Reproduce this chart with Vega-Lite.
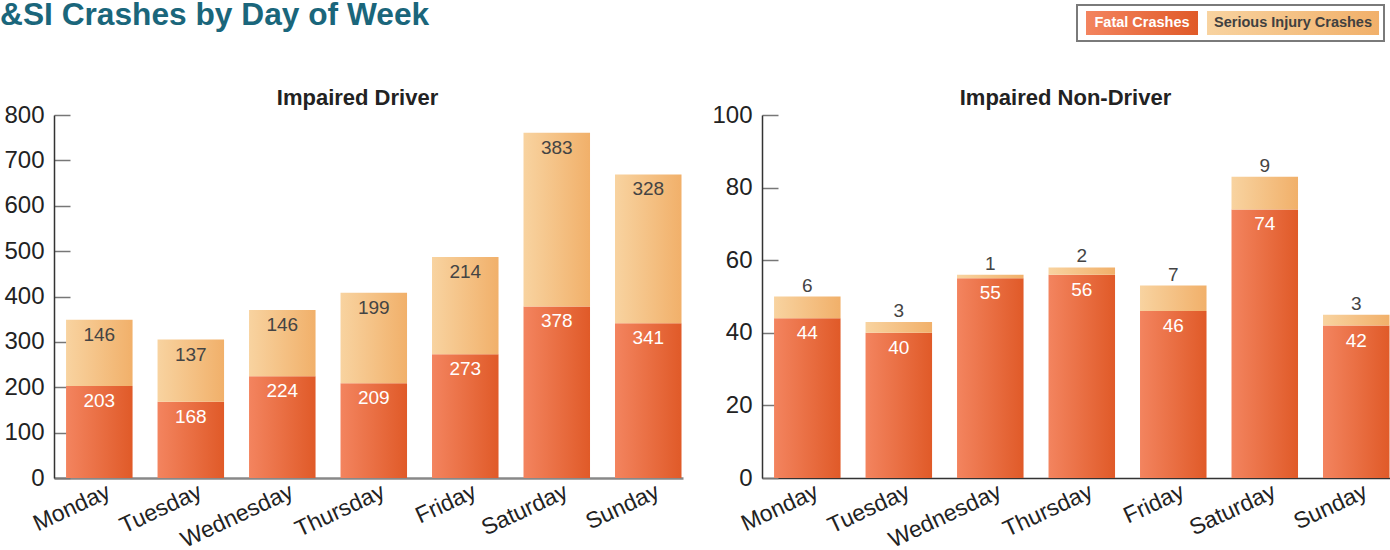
{
  "$schema": "https://vega.github.io/schema/vega-lite/v6.json",
  "padding": {"left": 0, "top": 0, "right": 0, "bottom": 0},
  "config": {"font": "Liberation Sans", "view": {"stroke": null}},
  "datasets": {
    "crashes": [
      {"chart": "Impaired Driver", "day": "Monday", "type": "Fatal Crashes", "value": 203},
      {"chart": "Impaired Driver", "day": "Monday", "type": "Serious Injury Crashes", "value": 146},
      {"chart": "Impaired Driver", "day": "Tuesday", "type": "Fatal Crashes", "value": 168},
      {"chart": "Impaired Driver", "day": "Tuesday", "type": "Serious Injury Crashes", "value": 137},
      {"chart": "Impaired Driver", "day": "Wednesday", "type": "Fatal Crashes", "value": 224},
      {"chart": "Impaired Driver", "day": "Wednesday", "type": "Serious Injury Crashes", "value": 146},
      {"chart": "Impaired Driver", "day": "Thursday", "type": "Fatal Crashes", "value": 209},
      {"chart": "Impaired Driver", "day": "Thursday", "type": "Serious Injury Crashes", "value": 199},
      {"chart": "Impaired Driver", "day": "Friday", "type": "Fatal Crashes", "value": 273},
      {"chart": "Impaired Driver", "day": "Friday", "type": "Serious Injury Crashes", "value": 214},
      {"chart": "Impaired Driver", "day": "Saturday", "type": "Fatal Crashes", "value": 378},
      {"chart": "Impaired Driver", "day": "Saturday", "type": "Serious Injury Crashes", "value": 383},
      {"chart": "Impaired Driver", "day": "Sunday", "type": "Fatal Crashes", "value": 341},
      {"chart": "Impaired Driver", "day": "Sunday", "type": "Serious Injury Crashes", "value": 328},
      {"chart": "Impaired Non-Driver", "day": "Monday", "type": "Fatal Crashes", "value": 44},
      {"chart": "Impaired Non-Driver", "day": "Monday", "type": "Serious Injury Crashes", "value": 6},
      {"chart": "Impaired Non-Driver", "day": "Tuesday", "type": "Fatal Crashes", "value": 40},
      {"chart": "Impaired Non-Driver", "day": "Tuesday", "type": "Serious Injury Crashes", "value": 3},
      {"chart": "Impaired Non-Driver", "day": "Wednesday", "type": "Fatal Crashes", "value": 55},
      {"chart": "Impaired Non-Driver", "day": "Wednesday", "type": "Serious Injury Crashes", "value": 1},
      {"chart": "Impaired Non-Driver", "day": "Thursday", "type": "Fatal Crashes", "value": 56},
      {"chart": "Impaired Non-Driver", "day": "Thursday", "type": "Serious Injury Crashes", "value": 2},
      {"chart": "Impaired Non-Driver", "day": "Friday", "type": "Fatal Crashes", "value": 46},
      {"chart": "Impaired Non-Driver", "day": "Friday", "type": "Serious Injury Crashes", "value": 7},
      {"chart": "Impaired Non-Driver", "day": "Saturday", "type": "Fatal Crashes", "value": 74},
      {"chart": "Impaired Non-Driver", "day": "Saturday", "type": "Serious Injury Crashes", "value": 9},
      {"chart": "Impaired Non-Driver", "day": "Sunday", "type": "Fatal Crashes", "value": 42},
      {"chart": "Impaired Non-Driver", "day": "Sunday", "type": "Serious Injury Crashes", "value": 3}
    ],
    "legend": [
      {"type": "Fatal Crashes"},
      {"type": "Serious Injury Crashes"}
    ]
  },
  "spacing": 45,
  "vconcat": [
    {
      "spacing": 20,
      "hconcat": [
        {
          "width": 1002,
          "height": 36,
          "data": {"values": []},
          "mark": {"type": "rule"},
          "encoding": {},
          "title": {"text": "&SI Crashes by Day of Week", "anchor": "start", "offset": -27, "dx": -54, "fontSize": 31.7, "fontWeight": "bold", "color": "#1a667b"}
        },
        {
          "width": 307,
          "height": 36,
          "data": {"name": "legend"},
          "view": {"stroke": "#7a7a7a", "strokeWidth": 2},
          "encoding": {
            "x": {"field": "type", "type": "nominal", "axis": null, "scale": {"domain": ["Fatal Crashes", "Serious Injury Crashes"], "paddingInner": 0.139, "paddingOuter": 0.086, "align": 0}},
            "y": {"datum": "legend", "type": "nominal", "axis": null, "scale": {"paddingInner": 0, "paddingOuter": 0.25}}
          },
          "layer": [
            {"transform": [{"filter": "datum.type === 'Fatal Crashes'"}], "mark": {"type": "bar", "width": 112, "color": {"gradient": "linear", "x1": 0, "y1": 0, "x2": 1, "y2": 0, "stops": [{"offset": 0, "color": "#f3845f"}, {"offset": 1, "color": "#e05a28"}]}}},
            {"transform": [{"filter": "datum.type !== 'Fatal Crashes'"}], "mark": {"type": "bar", "width": 172, "color": {"gradient": "linear", "x1": 0, "y1": 0, "x2": 1, "y2": 0, "stops": [{"offset": 0, "color": "#f8d3a0"}, {"offset": 1, "color": "#f1b06a"}]}}},
            {"mark": {"type": "text", "fontSize": 14.5, "fontWeight": "bold"}, "encoding": {"text": {"field": "type"}, "color": {"condition": {"test": "datum.type === 'Fatal Crashes'", "value": "#ffffff"}, "value": "#404040"}}}
          ]
        }
      ]
    },
    {
      "spacing": 28,
      "hconcat": [
        {
          "width": 629,
          "height": 363,
          "data": {"name": "crashes"},
          "transform": [
            {"filter": "datum.chart === 'Impaired Driver'"},
            {"stack": "value", "groupby": ["day"], "sort": [{"field": "type", "order": "ascending"}], "as": ["v0", "v1"]}
          ],
          "title": {"text": "Impaired Driver", "fontSize": 22, "fontWeight": "bold", "color": "#222222", "offset": -7, "dx": -11},
          "encoding": {
            "x": {"field": "day", "type": "nominal", "sort": ["Monday", "Tuesday", "Wednesday", "Thursday", "Friday", "Saturday", "Sunday"], "scale": {"paddingInner": 0.273, "paddingOuter": 0.074, "align": 0.89}, "axis": {"title": null, "labelAngle": -25, "labelFontSize": 23, "labelColor": "#222222", "ticks": false, "domainColor": "#888888", "domainWidth": 2.5, "labelPadding": 2, "labelOffset": 5}}
          },
          "layer": [
            {"transform": [{"filter": "datum.type === 'Fatal Crashes'"}], "mark": {"type": "bar", "color": {"gradient": "linear", "x1": 0, "y1": 0, "x2": 1, "y2": 0, "stops": [{"offset": 0, "color": "#f3845f"}, {"offset": 1, "color": "#e05a28"}]}},
             "encoding": {"y": {"field": "v0", "type": "quantitative", "scale": {"domain": [0, 800], "nice": false}, "axis": {"title": null, "values": [0, 100, 200, 300, 400, 500, 600, 700, 800], "grid": false, "domainColor": "#333333", "domainWidth": 1.5, "tickColor": "#777777", "tickWidth": 1.5, "tickSize": -16, "labelFontSize": 24, "labelColor": "#222222", "labelPadding": 26}}, "y2": {"field": "v1"}}},
            {"transform": [{"filter": "datum.type !== 'Fatal Crashes'"}], "mark": {"type": "bar", "color": {"gradient": "linear", "x1": 0, "y1": 0, "x2": 1, "y2": 0, "stops": [{"offset": 0, "color": "#f8d3a0"}, {"offset": 1, "color": "#f1b06a"}]}},
             "encoding": {"y": {"field": "v0", "type": "quantitative", "scale": {"domain": [0, 800], "nice": false}, "axis": {"title": null, "values": [0, 100, 200, 300, 400, 500, 600, 700, 800], "grid": false, "domainColor": "#333333", "domainWidth": 1.5, "tickColor": "#777777", "tickWidth": 1.5, "tickSize": -16, "labelFontSize": 24, "labelColor": "#222222", "labelPadding": 26}}, "y2": {"field": "v1"}}},
            {"transform": [{"filter": "datum.type === 'Fatal Crashes'"}], "mark": {"type": "text", "fontSize": 19, "color": "#ffffff", "dy": 15, "baseline": "middle"},
             "encoding": {"y": {"field": "v1", "type": "quantitative", "scale": {"domain": [0, 800], "nice": false}, "axis": {"title": null, "values": [0, 100, 200, 300, 400, 500, 600, 700, 800], "grid": false, "domainColor": "#333333", "domainWidth": 1.5, "tickColor": "#777777", "tickWidth": 1.5, "tickSize": -16, "labelFontSize": 24, "labelColor": "#222222", "labelPadding": 26}}, "text": {"field": "value"}}},
            {"transform": [{"filter": "datum.type !== 'Fatal Crashes'"}], "mark": {"type": "text", "fontSize": 19, "color": "#444444", "dy": 15, "baseline": "middle"},
             "encoding": {"y": {"field": "v1", "type": "quantitative", "scale": {"domain": [0, 800], "nice": false}, "axis": {"title": null, "values": [0, 100, 200, 300, 400, 500, 600, 700, 800], "grid": false, "domainColor": "#333333", "domainWidth": 1.5, "tickColor": "#777777", "tickWidth": 1.5, "tickSize": -16, "labelFontSize": 24, "labelColor": "#222222", "labelPadding": 26}}, "text": {"field": "value"}}}
          ]
        },
        {
          "width": 629,
          "height": 363,
          "data": {"name": "crashes"},
          "transform": [
            {"filter": "datum.chart === 'Impaired Non-Driver'"},
            {"stack": "value", "groupby": ["day"], "sort": [{"field": "type", "order": "ascending"}], "as": ["v0", "v1"]}
          ],
          "title": {"text": "Impaired Non-Driver", "fontSize": 22, "fontWeight": "bold", "color": "#222222", "offset": -7, "dx": -11},
          "encoding": {
            "x": {"field": "day", "type": "nominal", "sort": ["Monday", "Tuesday", "Wednesday", "Thursday", "Friday", "Saturday", "Sunday"], "scale": {"paddingInner": 0.273, "paddingOuter": 0.074, "align": 0.89}, "axis": {"title": null, "labelAngle": -25, "labelFontSize": 23, "labelColor": "#222222", "ticks": false, "domainColor": "#333333", "domainWidth": 1.5, "labelPadding": 2, "labelOffset": 5}}
          },
          "layer": [
            {"transform": [{"filter": "datum.type === 'Fatal Crashes'"}], "mark": {"type": "bar", "color": {"gradient": "linear", "x1": 0, "y1": 0, "x2": 1, "y2": 0, "stops": [{"offset": 0, "color": "#f3845f"}, {"offset": 1, "color": "#e05a28"}]}},
             "encoding": {"y": {"field": "v0", "type": "quantitative", "scale": {"domain": [0, 100], "nice": false}, "axis": {"title": null, "values": [0, 20, 40, 60, 80, 100], "grid": false, "domainColor": "#333333", "domainWidth": 1.5, "tickColor": "#777777", "tickWidth": 1.5, "tickSize": -16, "labelFontSize": 24, "labelColor": "#222222", "labelPadding": 26}}, "y2": {"field": "v1"}}},
            {"transform": [{"filter": "datum.type !== 'Fatal Crashes'"}], "mark": {"type": "bar", "color": {"gradient": "linear", "x1": 0, "y1": 0, "x2": 1, "y2": 0, "stops": [{"offset": 0, "color": "#f8d3a0"}, {"offset": 1, "color": "#f1b06a"}]}},
             "encoding": {"y": {"field": "v0", "type": "quantitative", "scale": {"domain": [0, 100], "nice": false}, "axis": {"title": null, "values": [0, 20, 40, 60, 80, 100], "grid": false, "domainColor": "#333333", "domainWidth": 1.5, "tickColor": "#777777", "tickWidth": 1.5, "tickSize": -16, "labelFontSize": 24, "labelColor": "#222222", "labelPadding": 26}}, "y2": {"field": "v1"}}},
            {"transform": [{"filter": "datum.type === 'Fatal Crashes'"}], "mark": {"type": "text", "fontSize": 19, "color": "#ffffff", "dy": 15, "baseline": "middle"},
             "encoding": {"y": {"field": "v1", "type": "quantitative", "scale": {"domain": [0, 100], "nice": false}, "axis": {"title": null, "values": [0, 20, 40, 60, 80, 100], "grid": false, "domainColor": "#333333", "domainWidth": 1.5, "tickColor": "#777777", "tickWidth": 1.5, "tickSize": -16, "labelFontSize": 24, "labelColor": "#222222", "labelPadding": 26}}, "text": {"field": "value"}}},
            {"transform": [{"filter": "datum.type !== 'Fatal Crashes'"}], "mark": {"type": "text", "fontSize": 19, "color": "#444444", "dy": -11, "baseline": "middle"},
             "encoding": {"y": {"field": "v1", "type": "quantitative", "scale": {"domain": [0, 100], "nice": false}, "axis": {"title": null, "values": [0, 20, 40, 60, 80, 100], "grid": false, "domainColor": "#333333", "domainWidth": 1.5, "tickColor": "#777777", "tickWidth": 1.5, "tickSize": -16, "labelFontSize": 24, "labelColor": "#222222", "labelPadding": 26}}, "text": {"field": "value"}}}
          ]
        }
      ]
    }
  ]
}
